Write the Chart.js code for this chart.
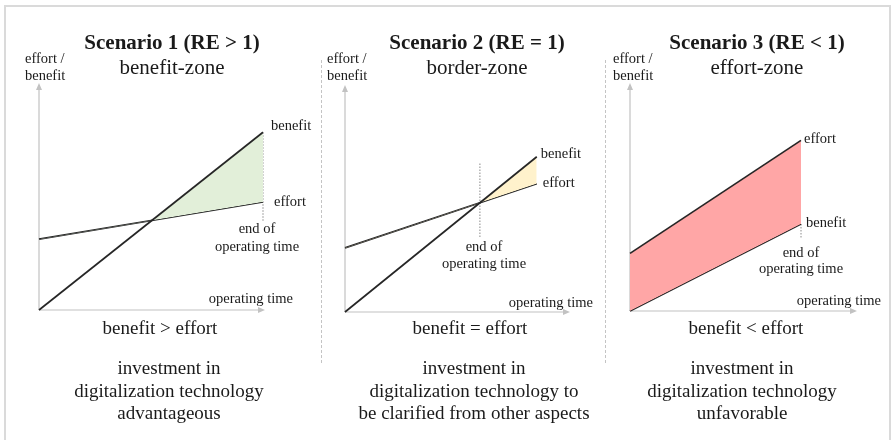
<!DOCTYPE html>
<html>
<head>
<meta charset="utf-8">
<script src="https://cdn.jsdelivr.net/npm/chart.js@4.4.1/dist/chart.umd.min.js"></script>
<style>
  body { margin: 0; width: 893px; height: 440px; background: #fff; position: relative; overflow: hidden;
         font-family: "Liberation Serif", "Times New Roman", serif; color: #1a1a1a; }
  .frame { position: absolute; left: 4px; top: 5px; width: 887px; height: 480px; border: 2px solid #dadada; box-sizing: border-box; }
  .sep { position: absolute; top: 60px; height: 303px; border-left: 1px dashed #c4c4c4; }
  .panel { position: absolute; top: 0; height: 440px; }
  .t { position: absolute; white-space: nowrap; }
  .c { transform: translateX(-50%); text-align: center; }
  .r { transform: translateX(-100%); text-align: right; }
  .title { font-size: 21px; line-height: 25px; top: 30px; }
  .title b { font-weight: bold; }
  .small { font-size: 14.5px; line-height: 17px; }
  .cap { font-size: 19px; line-height: 24px; top: 316px; }
  .bottom { font-size: 19px; line-height: 22.5px; top: 357px; }
</style>
</head>
<body>
<div class="frame"></div>
<div class="sep" style="left:321px"></div>
<div class="sep" style="left:605px"></div>

<div class="panel" style="left:0;width:320px"><canvas id="c1"></canvas></div>
<div class="panel" style="left:300px;width:300px"><canvas id="c2"></canvas></div>
<div class="panel" style="left:595px;width:298px"><canvas id="c3"></canvas></div>

<!-- Scenario 1 -->
<div class="t c title" style="left:172px"><b>Scenario 1 (RE &gt; 1)</b><br>benefit-zone</div>
<div class="t small" style="left:25px;top:49.5px">effort /<br>benefit</div>
<div class="t c small" style="left:257px;top:218.5px;line-height:18px">end of<br>operating time</div>
<div class="t r small" style="left:293px;top:289.5px">operating time</div>
<div class="t c cap" style="left:160px">benefit &gt; effort</div>
<div class="t c bottom" style="left:169px">investment in<br>digitalization technology<br>advantageous</div>

<!-- Scenario 2 -->
<div class="t c title" style="left:477px"><b>Scenario 2 (RE = 1)</b><br>border-zone</div>
<div class="t small" style="left:327px;top:49.5px">effort /<br>benefit</div>
<div class="t c small" style="left:484px;top:237.5px">end of<br>operating time</div>
<div class="t r small" style="left:593px;top:293.5px">operating time</div>
<div class="t c cap" style="left:470px">benefit = effort</div>
<div class="t c bottom" style="left:474px">investment in<br>digitalization technology to<br>be clarified from other aspects</div>

<!-- Scenario 3 -->
<div class="t c title" style="left:757px"><b>Scenario 3 (RE &lt; 1)</b><br>effort-zone</div>
<div class="t small" style="left:613px;top:49.5px">effort /<br>benefit</div>
<div class="t c small" style="left:801px;top:243.5px;line-height:16.5px">end of<br>operating time</div>
<div class="t r small" style="left:881px;top:291.5px">operating time</div>
<div class="t c cap" style="left:746px">benefit &lt; effort</div>
<div class="t c bottom" style="left:742px">investment in<br>digitalization technology<br>unfavorable</div>

<script>
// operating time (start, end of operating time) and line values, per scenario
const time1 = [0, 10];
const benefit1 = [0, 7.9];
const effort1 = [3.15, 4.8];
const endMark1 = [7.9, 3.9];   // dotted "end of operating time" marker (from, to)

const time2 = [0, 8.6];
const benefit2 = [0, 6.9];
const effort2 = [2.85, 5.7];
const endTime2 = 6.05;
const endMark2 = [6.6, 3.3];

const time3 = [0, 7.6];
const benefit3 = [0, 3.85];
const effort3 = [2.55, 7.55];
const endMark3 = [3.85, 3.25];

const pts = (xs, ys) => xs.map((x, i) => ({ x: x, y: ys[i] }));

// axes with arrow heads + end labels for the lines
const diagramPlugin = {
  id: "diagram",
  beforeDatasetsDraw(chart) {
    const ctx = chart.ctx, a = chart.chartArea;
    const x0 = chart.scales.x.getPixelForValue(0), y0 = chart.scales.y.getPixelForValue(0);
    ctx.save();
    ctx.strokeStyle = "#c2c2c2";
    ctx.fillStyle = "#c2c2c2";
    ctx.lineWidth = 1.2;
    ctx.beginPath();
    ctx.moveTo(x0, y0); ctx.lineTo(a.right - 4, y0);
    ctx.moveTo(x0, y0); ctx.lineTo(x0, a.top + 4);
    ctx.stroke();
    ctx.beginPath();
    ctx.moveTo(a.right + 2, y0); ctx.lineTo(a.right - 5, y0 - 3); ctx.lineTo(a.right - 5, y0 + 3); ctx.closePath();
    ctx.moveTo(x0, a.top - 2); ctx.lineTo(x0 - 3, a.top + 5); ctx.lineTo(x0 + 3, a.top + 5); ctx.closePath();
    ctx.fill();
    ctx.restore();
  },
  afterDatasetsDraw(chart, args, opts) {
    const ctx = chart.ctx;
    ctx.save();
    ctx.font = "14.5px 'Liberation Serif', serif";
    ctx.fillStyle = "#1a1a1a";
    ctx.textBaseline = "middle";
    (opts.labels || []).forEach((l) => {
      const meta = chart.getDatasetMeta(l.dataset);
      const p = meta.data[meta.data.length - 1];
      ctx.fillText(chart.data.datasets[l.dataset].label, p.x + l.dx, p.y + l.dy);
    });
    ctx.restore();
  },
};

function makeChart(id, datasets, padding, labels) {
  return new Chart(document.getElementById(id), {
    type: "line",
    data: { datasets: datasets },
    options: {
      responsive: true,
      maintainAspectRatio: false,
      animation: false,
      events: [],
      layout: { padding: padding },
      elements: { point: { radius: 0 }, line: { tension: 0 } },
      plugins: { legend: { display: false }, tooltip: { enabled: false }, diagram: { labels: labels } },
      scales: {
        x: { type: "linear", min: 0, max: 10, display: false },
        y: { type: "linear", min: 0, max: 10, display: false },
      },
    },
    plugins: [diagramPlugin],
  });
}

const lineStyle = { borderColor: "#262626", borderWidth: 1.7, clip: false };
const markStyle = { borderColor: "#8a8a8a", borderWidth: 1, borderDash: [1.5, 1.5], fill: false, clip: false };

// GRAPH 1 : benefit-zone
makeChart("c1", [
  { label: "benefit", data: pts(time1, benefit1), ...lineStyle,
    fill: { target: 1, above: "#e2efd9", below: "rgba(0,0,0,0)" } },
  { label: "effort", data: pts(time1, effort1), ...lineStyle, fill: false },
  { label: "end", data: pts([time1[1], time1[1]], endMark1), ...markStyle },
], { left: 39, right: 57, top: 85, bottom: 130 },
[{ dataset: 0, dx: 8, dy: -6 }, { dataset: 1, dx: 11, dy: 0 }]);

// GRAPH 2 : border-zone
makeChart("c2", [
  { label: "benefit", data: pts(time2, benefit2), ...lineStyle,
    fill: { target: 1, above: "#fff2cc", below: "rgba(0,0,0,0)" } },
  { label: "effort", data: pts(time2, effort2), ...lineStyle, fill: false },
  { label: "end", data: pts([endTime2, endTime2], endMark2), ...markStyle },
], { left: 45, right: 32, top: 87, bottom: 128 },
[{ dataset: 0, dx: 4, dy: -3 }, { dataset: 1, dx: 6, dy: -1 }]);

// GRAPH 3 : effort-zone
makeChart("c3", [
  { label: "effort", data: pts(time3, effort3), ...lineStyle,
    fill: { target: 1, above: "#ffa6a6", below: "rgba(0,0,0,0)" } },
  { label: "benefit", data: pts(time3, benefit3), ...lineStyle, fill: false },
  { label: "end", data: pts([time3[1], time3[1]], endMark3), ...markStyle },
], { left: 35, right: 38, top: 85, bottom: 129 },
[{ dataset: 0, dx: 3, dy: -1 }, { dataset: 1, dx: 5, dy: -1 }]);
</script>
</body>
</html>
